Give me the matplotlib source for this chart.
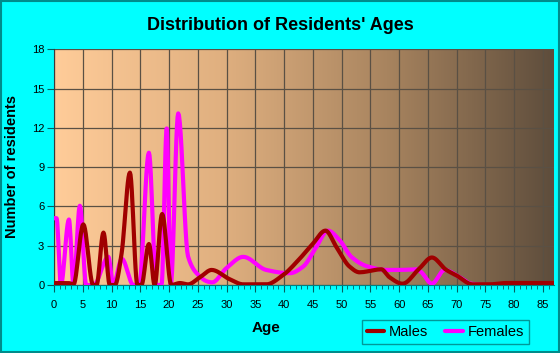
import numpy as np
import matplotlib.pyplot as plt
from matplotlib.patches import Rectangle
from matplotlib.colors import LinearSegmentedColormap

# values (age, number of residents)
male_age = [0, 2.5, 3.4, 5.1, 6.8, 7.4, 8.6, 9.7, 10.6, 11.75, 13.2, 14.5, 15.2, 16.5, 17.5,
            18.8, 20.4, 21.9, 23.3, 25.4, 27.4, 30.6, 32.9, 36.9, 39.8, 42.7, 45, 47.2, 49.1,
            51.4, 53.1, 56.9, 58.3, 60.6, 63.5, 65.7, 68.2, 69.9, 72.8, 75.7, 78.6, 86.9]
male_val = [0.15, 0.15, 0.05, 4.63, 0, 0, 4.0, 0, 0, 2.4, 8.58, 0, 0, 3.13, 0,
            5.42, 0, 0.15, 0.05, 0.6, 1.15, 0.43, 0.05, 0.05, 0.75, 2.0, 3.15, 4.15, 2.9,
            1.4, 0.97, 1.2, 0.6, 0.1, 1.25, 2.1, 1.15, 0.75, 0.05, 0.05, 0.15, 0.15]

female_age = [0, 0.45, 1.2, 2.6, 3.4, 4.5, 5.6, 6.9, 9.45, 10.3, 11.8, 13.8, 14.8, 16.5, 17.8,
              18.7, 19.6, 20.3, 21.6, 23.3, 24.8, 26.8, 27.5, 30, 32.9, 36.9, 41, 43.3, 45.6,
              47.6, 49.7, 51.7, 54.3, 57.8, 60.1, 63, 63.8, 65.7, 67.9, 70.5, 72.5, 75, 86.9]
female_val = [5.1, 5.1, 0, 5.0, 0, 6.05, 0, 0, 2.15, 0, 2.0, 0, 0, 10.1, 0,
              0, 11.95, 0, 13.1, 2.2, 0.9, 0.25, 0.2, 1.3, 2.15, 1.15, 0.9, 1.4, 2.9,
              4.15, 3.4, 2.15, 1.45, 1.15, 1.15, 1.2, 1.0, 0.1, 1.15, 0.6, 0.1, 0, 0]

x_ticks = list(range(0, 90, 5))
y_ticks = [0, 3, 6, 9, 12, 15, 18]


def smooth(xs, ys, n=12):
    # monotone cubic (Fritsch-Carlson) drawn through the read points
    x = np.asarray(xs, float)
    y = np.asarray(ys, float)
    h = np.diff(x)
    d = np.diff(y) / h
    m = np.zeros_like(y)
    m[0], m[-1] = d[0], d[-1]
    for i in range(1, len(x) - 1):
        if d[i - 1] * d[i] > 0:
            w1 = 2 * h[i] + h[i - 1]
            w2 = h[i] + 2 * h[i - 1]
            m[i] = (w1 + w2) / (w1 / d[i - 1] + w2 / d[i])
    px, py = [], []
    for i in range(len(x) - 1):
        t = np.linspace(0, 1, n, endpoint=False)
        h00 = 2 * t**3 - 3 * t**2 + 1
        h10 = t**3 - 2 * t**2 + t
        h01 = -2 * t**3 + 3 * t**2
        h11 = t**3 - t**2
        px.extend(x[i] + t * h[i])
        py.extend(h00 * y[i] + h10 * h[i] * m[i] + h01 * y[i + 1] + h11 * h[i] * m[i + 1])
    px.append(x[-1])
    py.append(y[-1])
    return np.array(px), np.array(py)


plt.rcParams['font.family'] = ['Liberation Sans', 'DejaVu Sans']

fig = plt.figure(figsize=(5.6, 3.53), dpi=100, facecolor='#00FFFF')
fig.patches.append(Rectangle((0.001, 0.002), 0.997, 0.995, transform=fig.transFigure,
                             fill=False, edgecolor='#008B8B', lw=1.5))
ax = fig.add_axes([0.0964, 0.1926, 0.8926, 0.668])

xmax = 86.9
cmap = LinearSegmentedColormap.from_list('bg', ['#FFCC99', '#E0B080', '#A8845F', '#5E4D3C'])
ax.imshow(np.linspace(0, 1, 256).reshape(1, -1), cmap=cmap, aspect='auto',
          extent=[0, xmax, 0, 18], zorder=0)

ax.set_xlim(0, xmax)
ax.set_ylim(0, 18)
ax.set_xticks(x_ticks)
ax.set_yticks(y_ticks)
ax.set_xticks(range(0, 87), minor=True)
ax.grid(True, color='#5A5044', lw=0.9, zorder=1)

fx, fy = smooth(female_age, female_val)
mx, my = smooth(male_age, male_val)
lf, = ax.plot(fx, np.clip(fy, 0, None), color='#FF00FF', lw=3, zorder=3, solid_capstyle='round')
lm, = ax.plot(mx, np.clip(my, 0, None), color='#A00000', lw=3, zorder=4, solid_capstyle='round')

for s in ['top', 'right']:
    ax.spines[s].set_visible(False)
ax.spines['left'].set_color('#3A3A3A')
ax.spines['bottom'].set_color('#008080')
ax.tick_params(axis='both', which='major', labelsize=8, colors='#006060', labelcolor='black')
ax.tick_params(axis='x', which='major', length=5, pad=6)
ax.tick_params(axis='x', which='minor', length=3, colors='#006060')
ax.tick_params(axis='y', length=5, pad=2)

fig.text(0.5, 0.927, "Distribution of Residents' Ages", ha='center', va='center',
         fontsize=13, fontweight='bold')
fig.text(0.022, 0.527, 'Number of residents', ha='center', va='center', rotation=90,
         fontsize=10.5, fontweight='bold')
fig.text(0.475, 0.071, 'Age', ha='center', va='center', fontsize=11, fontweight='bold')

leg = fig.legend([lm, lf], ['Males', 'Females'], loc='center', bbox_to_anchor=(0.795, 0.06),
                 ncol=2, frameon=True, fontsize=10.5, handlelength=1.2, handletextpad=0.3,
                 columnspacing=1.2, borderpad=0.35, fancybox=False)
leg.get_frame().set_facecolor('#00FFFF')
leg.get_frame().set_edgecolor('#008080')
leg.get_frame().set_linewidth(1)

fig.savefig('out.png', dpi=100, facecolor=fig.get_facecolor())
